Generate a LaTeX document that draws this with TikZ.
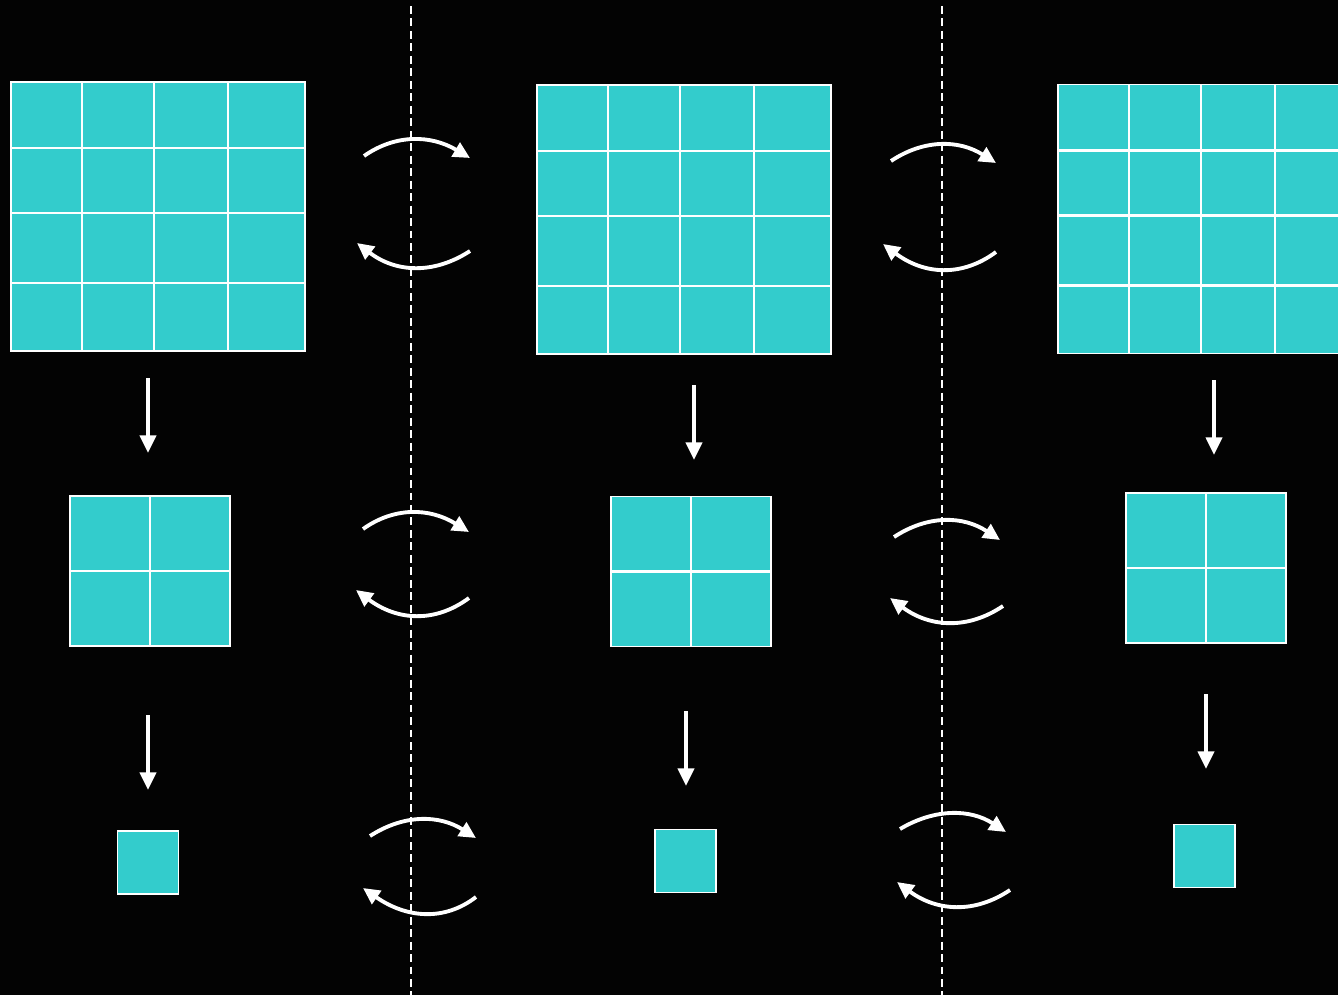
\documentclass[tikz,border=0pt]{standalone}
\usetikzlibrary{arrows.meta,calc}
\definecolor{cellcyan}{RGB}{51,204,204}
\definecolor{bgblack}{RGB}{3,3,3}
\tikzset{
 cellbox/.style={draw=white, fill=cellcyan, line width=1pt, inner sep=0pt, outer sep=0pt},
 bigbox/.style={cellbox, minimum width=5.88cm, minimum height=5.38cm},
 midbox/.style={cellbox, minimum width=3.2cm, minimum height=3.0cm},
 smallbox/.style={cellbox, minimum width=1.22cm, minimum height=1.26cm},
 cellline/.style={draw=white, line width=1.2pt},
 downarrow/.style={draw=white, line width=2.3pt, -{Triangle[length=10pt,width=9pt]}},
 curvearrow/.style={draw=white, line width=2.2pt, -{Triangle[length=9.5pt,width=9pt]}},
 divider/.style={draw=white, line width=1pt, dash pattern=on 4.5pt off 2.6pt},
}
\newcommand{\bigcells}[1]{%
 \foreach \dx in {71,143,217}{\draw[cellline] ([xshift=\dx*0.02cm]#1.north west) -- ([xshift=\dx*0.02cm]#1.south west);}%
 \foreach \dy in {66,131,201}{\draw[cellline] ([yshift=-\dy*0.02cm]#1.north west) -- ([yshift=-\dy*0.02cm]#1.north east);}}
\newcommand{\midcells}[1]{%
 \draw[cellline] (#1.north) -- (#1.south);
 \draw[cellline] (#1.west) -- (#1.east);}
\newcommand{\swaparc}[3]{\draw[curvearrow] (#1) .. controls ($1.3333*(#2)-0.3333*(#3)$) and ($1.3333*(#2)-0.3333*(#1)$) .. (#3);}
\begin{document}
\begin{tikzpicture}[x=0.02cm,y=-0.02cm]
\useasboundingbox (0,0) rectangle (1338,995);
\fill[bgblack] (0,0) rectangle (1338,995);
\clip (0,0) rectangle (1338,995);
% dividers
\coordinate (dv1t) at (411,6);
\coordinate (dv1b) at (411,995);
\coordinate (dv2t) at (942,6);
\coordinate (dv2b) at (942,995);
\draw[divider] (dv1t) -- (dv1b);
\draw[divider] (dv2t) -- (dv2b);
% big grids
\node[bigbox] (g1) at (158,216.5) {};
\node[bigbox] (g2) at (684,219.5) {};
\node[bigbox] (g3) at (1205,219) {};
\bigcells{g1}
\bigcells{g2}
\bigcells{g3}
% middle grids
\node[midbox] (m1) at (150,571) {};
\node[midbox] (m2) at (691,571.5) {};
\node[midbox] (m3) at (1206,568) {};
\midcells{m1}
\midcells{m2}
\midcells{m3}
% small squares
\node[smallbox] (s1) at (148,862.5) {};
\node[smallbox] (s2) at (685.5,861) {};
\node[smallbox] (s3) at (1204.5,856) {};
% down arrows
\coordinate (ar1s) at (148,378);  \coordinate (ar1e) at (148,453);
\coordinate (ar2s) at (694,385);  \coordinate (ar2e) at (694,460);
\coordinate (ar3s) at (1214,380); \coordinate (ar3e) at (1214,455);
\coordinate (ar4s) at (148,715);  \coordinate (ar4e) at (148,790);
\coordinate (ar5s) at (686,711);  \coordinate (ar5e) at (686,786);
\coordinate (ar6s) at (1206,694); \coordinate (ar6e) at (1206,769);
\foreach \i in {1,...,6}{\draw[downarrow] (ar\i s) -- (ar\i e);}
% swap arrows, row 1
\coordinate (a1s) at (364,156); \coordinate (a1m) at (414,140); \coordinate (a1e) at (470,158);
\coordinate (b1s) at (470,251); \coordinate (b1m) at (414,267); \coordinate (b1e) at (357,243);
\coordinate (c1s) at (891,161); \coordinate (c1m) at (942,145); \coordinate (c1e) at (996,163);
\coordinate (e1s) at (996,252); \coordinate (e1m) at (942,269); \coordinate (e1e) at (883,244);
% row 2
\coordinate (a2s) at (363,529); \coordinate (a2m) at (413,513); \coordinate (a2e) at (469,532);
\coordinate (b2s) at (469,598); \coordinate (b2m) at (415,615); \coordinate (b2e) at (356,590);
\coordinate (c2s) at (894,537); \coordinate (c2m) at (946,521); \coordinate (c2e) at (1000,540);
\coordinate (e2s) at (1003,606); \coordinate (e2m) at (948,622); \coordinate (e2e) at (890,598);
% row 3
\coordinate (a3s) at (370,836); \coordinate (a3m) at (422,820); \coordinate (a3e) at (476,838);
\coordinate (b3s) at (476,897); \coordinate (b3m) at (424,913); \coordinate (b3e) at (363,888);
\coordinate (c3s) at (900,829); \coordinate (c3m) at (953,814); \coordinate (c3e) at (1006,832);
\coordinate (e3s) at (1010,890); \coordinate (e3m) at (955,906); \coordinate (e3e) at (897,882);
\foreach \r in {1,2,3}{
 \swaparc{a\r s}{a\r m}{a\r e}
 \swaparc{b\r s}{b\r m}{b\r e}
 \swaparc{c\r s}{c\r m}{c\r e}
 \swaparc{e\r s}{e\r m}{e\r e}
}
\end{tikzpicture}
\end{document}
